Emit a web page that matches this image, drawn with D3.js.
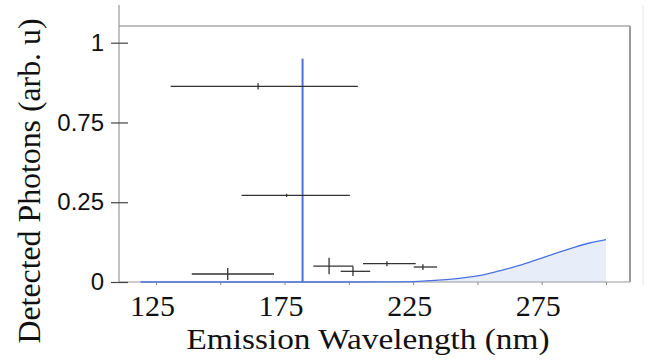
<!DOCTYPE html>
<html>
<head>
<meta charset="utf-8">
<script src="https://cdn.jsdelivr.net/npm/d3@7"></script>
<style>
html,body{margin:0;padding:0;background:#fff;}
svg{display:block;}
</style>
</head>
<body>
<svg id="chart" width="648" height="364"></svg>
<script>
// ---- data ----
const xTicks = [125, 150, 175, 200, 225, 250, 275, 300];
const xTickLabels = ["125", "", "175", "", "225", "", "275", ""];
const yTicks = [0, 0.25, 0.75, 1];
const yTickLabels = ["0", "0.25", "0.75", "1"];

// broad emission curve (nm, value)
const curveNm  = [119, 140, 160, 180, 200, 215, 227, 233, 240, 250, 259, 263, 266, 275, 287, 294, 300];
const curveVal = [0, 0, 0, 0, 0, 0.0005, 0.002, 0.005, 0.009, 0.019, 0.036, 0.044, 0.051, 0.075, 0.107, 0.123, 0.133];

// narrow line
const spikeNm = 182;
const spikeVal = 0.95;

// measured points with error bars
const ptNm   = [164.7, 175.8, 152.9, 192.3, 201.6, 214.8, 228.8];
const ptNmLo = [130.7, 158.3, 138.9, 186.2, 196.8, 205.5, 225.2];
const ptNmHi = [203.5, 200.4, 170.9, 201.7, 208.3, 226.0, 234.3];
const ptVal  = [0.863, 0.293, 0.025, 0.050, 0.0335, 0.0573, 0.047];
const ptErr  = [0.010, 0.010, 0.019, 0.026, 0.015, 0.008, 0.009];

const xTitle = "Emission Wavelength (nm)";
const yTitle = "Detected Photons (arb. u)";

// ---- layout ----
const svg = d3.select("#chart");
const plotL = 119, plotR = 630, plotT = 26, plotB = 282;
const yTop1 = 42.7;
const blue = "#4a72e0";
const serif = "'Liberation Serif'";
const sans = "'Liberation Sans'";

const x = d3.scaleLinear().domain([125, 300]).range([156, 606]);
const step = (plotB - yTop1) / 3;
const y = d3.scaleLinear().domain(yTicks).range(yTicks.map((d, i) => plotB - i * step));

// frame
svg.append("line").attr("x1", 643).attr("x2", 643).attr("y1", 5).attr("y2", 285)
  .attr("stroke", "#e4e4e4").attr("stroke-width", 1);
svg.append("line").attr("x1", plotL).attr("x2", plotR).attr("y1", plotT).attr("y2", plotT)
  .attr("stroke", "#aaa").attr("stroke-width", 1.5);
svg.append("line").attr("x1", plotR).attr("x2", plotR).attr("y1", plotT).attr("y2", plotB)
  .attr("stroke", "#9a9a9a").attr("stroke-width", 2);

// curve area + line
const curve = curveNm.map((d, i) => [d, curveVal[i]]);
svg.append("path").datum(curve)
  .attr("d", d3.area().x(d => x(d[0])).y0(y(0)).y1(d => y(d[1])).curve(d3.curveMonotoneX))
  .attr("fill", "#e8edfa");

// x axis
const xAxis = svg.append("g").attr("transform", `translate(0,${plotB})`)
  .call(d3.axisBottom(x).tickValues(xTicks).tickFormat((d, i) => xTickLabels[i]).tickSize(3).tickSizeOuter(0));
xAxis.attr("font-family", null);
xAxis.select(".domain").remove();
xAxis.selectAll(".tick line").attr("stroke", "#888");
xAxis.selectAll(".tick text").style("font-family", serif)
  .style("font-size", "30px").attr("fill", "#111").attr("dx", -4).attr("y", 13).attr("dy", "0.71em");
svg.append("line").attr("x1", plotL).attr("x2", plotR).attr("y1", plotB).attr("y2", plotB)
  .attr("stroke", "#999").attr("stroke-width", 1.2);

svg.append("path").datum(curve)
  .attr("d", d3.line().x(d => x(d[0])).y(d => y(d[1])).curve(d3.curveMonotoneX))
  .attr("fill", "none").attr("stroke", blue).attr("stroke-width", 1.3);

// y axis
svg.append("line").attr("x1", plotL).attr("x2", plotL).attr("y1", 5).attr("y2", plotB)
  .attr("stroke", "#999").attr("stroke-width", 1.2);
const yAxis = svg.append("g").attr("transform", `translate(${plotL + 9},0)`)
  .call(d3.axisLeft(y).tickValues(yTicks).tickFormat((d, i) => yTickLabels[i]).tickSize(17).tickPadding(7));
yAxis.attr("font-family", null);
yAxis.select(".domain").remove();
yAxis.selectAll(".tick line").attr("stroke", "#444").attr("stroke-width", 1.2);
yAxis.selectAll(".tick text").style("font-family", sans)
  .style("font-size", "24px").attr("fill", "#111");

// spike
svg.append("line").attr("x1", x(spikeNm)).attr("x2", x(spikeNm))
  .attr("y1", y(0)).attr("y2", y(spikeVal))
  .attr("stroke", blue).attr("stroke-width", 2);

// error bars
const pts = ptNm.map((d, i) => ({c: d, lo: ptNmLo[i], hi: ptNmHi[i], v: ptVal[i], e: ptErr[i]}));
const g = svg.append("g").attr("stroke", "#333").attr("stroke-width", 1.3);
g.selectAll("line.h").data(pts).join("line").attr("class", "h")
  .attr("x1", d => x(d.lo)).attr("x2", d => x(d.hi))
  .attr("y1", d => y(d.v)).attr("y2", d => y(d.v));
g.selectAll("line.v").data(pts).join("line").attr("class", "v")
  .attr("x1", d => x(d.c)).attr("x2", d => x(d.c))
  .attr("y1", d => y(d.v - d.e)).attr("y2", d => y(d.v + d.e));

// titles
svg.append("text").attr("x", 368).attr("y", 349).attr("text-anchor", "middle")
  .style("font-family", serif).style("font-size", "30px")
  .attr("textLength", 363).attr("lengthAdjust", "spacingAndGlyphs")
  .attr("fill", "#111").text(xTitle);
svg.append("text").attr("transform", "translate(40,181) rotate(-90)").attr("text-anchor", "middle")
  .style("font-family", serif).style("font-size", "31px")
  .attr("textLength", 325).attr("lengthAdjust", "spacingAndGlyphs")
  .attr("fill", "#111").text(yTitle);
</script>
</body>
</html>
